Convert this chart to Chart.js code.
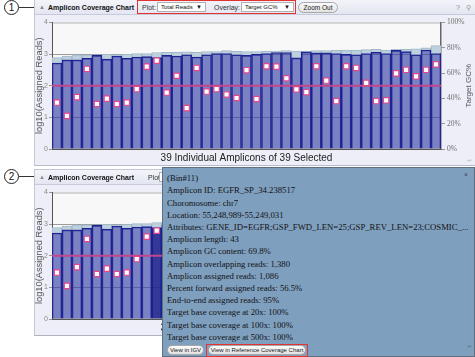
<!DOCTYPE html>
<html><head><meta charset="utf-8">
<script src="https://cdn.jsdelivr.net/npm/chart.js@4.4.0/dist/chart.umd.min.js"></script>
<style>
html,body{margin:0;padding:0;width:475px;height:357px;overflow:hidden;background:#fff;font-family:"Liberation Sans",Arial,sans-serif;}
.a{position:absolute;}
.panel{position:absolute;left:34px;width:441px;background:#eeeef9;border-left:1px solid #c4c6d8;box-sizing:border-box;}
.hdr{position:absolute;left:0;top:0;width:441px;height:15px;background:linear-gradient(#f3f4fa,#e3e6f2);border-bottom:1px solid #c6cadb;box-sizing:border-box;}
.ttl{position:absolute;top:2px;left:13px;font-weight:bold;font-size:7px;line-height:11px;color:#111;white-space:nowrap;}
.tri{position:absolute;left:4px;top:2px;font-size:6px;line-height:11px;color:#888;}
.lbl{position:absolute;top:2px;font-size:7px;line-height:11px;color:#333;white-space:nowrap;}
.sel{position:absolute;top:2px;height:10px;background:#fff;border:1px solid #b0b0b0;box-sizing:border-box;font-size:6px;line-height:8px;padding-left:3px;color:#111;white-space:nowrap;}
.sel span{position:absolute;right:3px;top:0;font-size:6px;}
.btn{position:absolute;border:1px solid #a8a8a8;border-radius:6px;background:linear-gradient(#fbfbfb,#e2e2e2);box-sizing:border-box;font-size:6.5px;text-align:center;color:#222;white-space:nowrap;}
.circ{position:absolute;width:15px;height:15px;border:1px solid #222;border-radius:50%;box-sizing:border-box;background:#fff;font-size:10px;line-height:13px;text-align:center;color:#111;}
.lead{position:absolute;height:1px;background:#333;}
canvas{position:absolute;}
.tip{position:absolute;left:162px;top:167px;width:313px;height:190px;background:#7f9fbf;border:1px solid #5d6f80;box-sizing:border-box;font-family:"Liberation Serif","Times New Roman",serif;color:#121212;}
.tip .ln{position:absolute;left:4px;font-size:8.7px;line-height:12.2px;white-space:nowrap;}
</style></head>
<body>
<div class="circ" style="left:4px;top:0px;">1</div>
<div class="lead" style="left:19px;top:7px;width:19px;"></div>
<div class="circ" style="left:4px;top:169px;">2</div>
<div class="lead" style="left:19px;top:176px;width:19px;"></div>

<div class="panel" style="top:0;height:166px;border-bottom:1px solid #b8bac8;">
  <div class="hdr">
    <div class="tri">&#9650;</div>
    <div class="ttl">Amplicon Coverage Chart</div>
    <div class="lbl" style="left:107px;">Plot:</div>
    <div class="sel" style="left:122px;width:49px;">Total Reads<span>&#9660;</span></div>
    <div class="lbl" style="left:179px;">Overlay:</div>
    <div class="sel" style="left:206px;width:53px;">Target GC%<span>&#9660;</span></div>
    <div class="a" style="left:102px;top:0;width:159px;height:14px;border:1.5px solid #e23232;box-sizing:border-box;"></div>
    <div class="btn" style="left:263px;top:2px;width:40px;height:11px;line-height:9px;">Zoom Out</div>
    <div class="lbl" style="left:421px;color:#888;">?</div>
    <div class="lbl" style="left:431px;color:#999;font-size:7px;">&#9906;</div>
  </div>
  <canvas id="c1" width="441" height="150" style="left:-1px;top:16px;"></canvas>
  <div class="a" style="left:432px;top:158px;font-size:6px;color:#999;">&#8279;</div>
</div>

<div class="panel" style="top:169px;height:167px;border-bottom:1px solid #b0b2c0;border-top:1px solid #c4c6d8;">
  <div class="hdr">
    <div class="tri">&#9650;</div>
    <div class="ttl">Amplicon Coverage Chart</div>
    <div class="lbl" style="left:113px;">Plot:</div>
    <div class="sel" style="left:124px;width:49px;">Total Reads<span>&#9660;</span></div>
  </div>
  <canvas id="c2" width="441" height="150" style="left:-1px;top:16px;"></canvas>
</div>

<div class="tip">
  <div class="ln" style="top:3.5px;">(Bin#11)</div>
  <div class="ln" style="top:16px;">Amplicon ID: EGFR_SP_34.238517</div>
  <div class="ln" style="top:28.5px;">Choromosome: chr7</div>
  <div class="ln" style="top:40.7px;">Location: 55,248,989-55,249,031</div>
  <div class="ln" style="top:52.9px;">Attributes: GENE_ID=EGFR;GSP_FWD_LEN=25;GSP_REV_LEN=23;COSMIC_...</div>
  <div class="ln" style="top:65.1px;">Amplicon length: 43</div>
  <div class="ln" style="top:77.3px;">Amplicon GC content: 69.8%</div>
  <div class="ln" style="top:89.5px;">Amplicon overlapping reads: 1,380</div>
  <div class="ln" style="top:101.7px;">Amplicon assigned reads: 1,086</div>
  <div class="ln" style="top:113.9px;">Percent forward assigned reads: 56.5%</div>
  <div class="ln" style="top:126.1px;">End-to-end assigned reads: 95%</div>
  <div class="ln" style="top:138.3px;">Target base coverage at 20x: 100%</div>
  <div class="ln" style="top:150.5px;">Target base coverage at 100x: 100%</div>
  <div class="ln" style="top:162.7px;">Target base coverage at 500x: 100%</div>
  <div class="btn" style="left:4px;top:177px;width:37px;height:10px;line-height:8px;font-family:'Liberation Sans',sans-serif;font-size:6px;">View in IGV</div>
  <div class="a" style="left:43px;top:175.5px;width:102px;height:13px;border:1.5px solid #e23232;box-sizing:border-box;"></div>
  <div class="btn" style="left:45px;top:177px;width:98px;height:10px;line-height:8px;font-family:'Liberation Sans',sans-serif;font-size:6px;">View in Reference Coverage Chart</div>
  <div class="a" style="left:301px;top:3px;font-size:7px;color:#445;font-family:'Liberation Sans',sans-serif;">&#215;</div>
  <div class="a" style="left:304px;top:176px;font-size:6px;color:#556;">&#8279;</div>
</div>

<script>
// ---- data ----
const amplicons = ['1','2','3','4','5','6','7','8','9','10','11','12','13','14','15','16','17','18','19','20',
  '21','22','23','24','25','26','27','28','29','30','31','32','33','34','35','36','37','38','39'];
const assignedLog10 = [2.72,2.82,2.82,2.87,2.96,2.84,2.94,2.87,2.91,2.92,2.89,2.96,2.94,2.98,2.91,2.98,3.02,3.02,2.98,2.96,
  2.99,3.02,3.05,3.05,2.88,3.07,3.04,3.04,3.02,2.99,2.98,3.02,3.06,3.02,3.12,3.08,2.98,3.13,3.02];
const overlappingLog10 = [2.89,2.94,2.98,2.98,2.97,2.99,2.98,2.99,3.02,3.02,3.05,3.06,3.06,3.07,3.06,3.08,3.08,3.11,3.09,3.08,
  3.08,3.10,3.10,3.11,3.10,3.09,3.11,3.11,3.13,3.13,3.13,3.14,3.15,3.13,3.15,3.15,3.17,3.20,3.27];
const targetGC = [36.7,26.2,41.0,63.3,35.6,39.8,35.6,36.7,47.4,65.1,69.8,44.6,57.9,32.3,64.1,45.4,47.4,43.1,40.3,62.3,
  39.5,65.4,65.1,55.9,47.2,44.9,65.4,54.1,37.9,65.4,64.1,52.3,37.9,38.5,59.8,62.6,57.4,62.6,66.9];
const gcReference = 50;
const leftTicks = [0,1,2,3,4];
const rightTicks = [0,20,40,60,80,100];
const selectedBin = '11';
const xTitle = '39 Individual Amplicons of 39 Selected';
const leftTitle = 'log10(Assigned Reads)';
const rightTitle = 'Target GC%';

// ---- plugins ----
const plotFrame = {
  id:'plotFrame',
  beforeDraw(chart){
    const {ctx, chartArea:a} = chart;
    ctx.save();
    ctx.fillStyle = '#f8f8f8';
    ctx.fillRect(a.left, a.top, a.right-a.left, a.bottom-a.top);
    ctx.strokeStyle = '#b4b4b4'; ctx.lineWidth = 1;
    ctx.strokeRect(a.left+0.5, a.top+0.5, a.right-a.left-1, a.bottom-a.top-1);
    ctx.restore();
  }
};
const gcLine = {
  id:'gcLine',
  beforeDatasetDraw(chart, args){
    if (args.index !== 0) return;
    const {ctx, chartArea:a} = chart;
    const y = chart.scales.y2.getPixelForValue(gcReference);
    ctx.save();
    ctx.strokeStyle = '#c2468c'; ctx.lineWidth = 2;
    ctx.beginPath(); ctx.moveTo(a.left, y); ctx.lineTo(a.right, y); ctx.stroke();
    ctx.restore();
  }
};
const rightAxisTitle = {
  id:'rightAxisTitle',
  afterDraw(chart){
    const {ctx, chartArea:a} = chart;
    const s = chart.scales.y2;
    ctx.save();
    ctx.translate(s.right - 6, (a.top + a.bottom)/2);
    ctx.rotate(-Math.PI/2);
    ctx.font = '8px "Liberation Sans", Arial, sans-serif';
    ctx.fillStyle = '#555';
    ctx.textAlign = 'center'; ctx.textBaseline = 'middle';
    ctx.fillText(rightTitle, 0, 0);
    ctx.restore();
  }
};

function buildChart(id, highlight){
  const darkFill = amplicons.map(c => (highlight && c === selectedBin) ? 'rgba(30,36,140,0.9)' : 'rgba(52,62,165,0.64)');
  return new Chart(document.getElementById(id), {
    type:'bar',
    data:{
      labels: amplicons,
      datasets:[
        { type:'line', label:'Target GC%', data: targetGC, yAxisID:'y2', showLine:false,
          pointStyle:'rect', pointRadius:3.8, pointHoverRadius:3.8,
          pointBackgroundColor:'#ffffff', pointBorderColor:'#e0488c', pointBorderWidth:1.2, order:0 },
        { label:'Assigned reads', data: assignedLog10, yAxisID:'y', grouped:false,
          backgroundColor: darkFill, borderColor:'#1c2190', borderWidth:1,
          categoryPercentage:1, barPercentage:1, order:1 },
        { label:'Overlapping reads', data: amplicons.map((c,i)=>[assignedLog10[i], overlappingLog10[i]]), yAxisID:'y', grouped:false,
          backgroundColor:'#bdd0de', borderColor:'#a2b7c8', borderWidth:1,
          categoryPercentage:1, barPercentage:1, order:2 }
      ]
    },
    options:{
      responsive:false, animation:false,
      layout:{padding:{top:3,left:0,right:0,bottom:0}},
      plugins:{legend:{display:false}, tooltip:{enabled:false}},
      scales:{
        x:{ type:'category', ticks:{display:false}, grid:{display:false, drawTicks:false},
            border:{color:'#555'},
            title:{display:true, text:xTitle, color:'#222', font:{family:'"Liberation Sans", Arial, sans-serif', size:10}, padding:{top:0,bottom:2}},
            afterFit(s){ s.height = 17; } },
        y:{ position:'left', min:0, max:4,
            afterBuildTicks(s){ s.ticks = leftTicks.map(v=>({value:v})); },
            ticks:{ font:{family:'"Liberation Sans", Arial, sans-serif', size:7}, color:'#888', padding:1 },
            grid:{ color:(c)=> (c.tick && (c.tick.value===0 || c.tick.value===4)) ? 'rgba(0,0,0,0)' : '#9c9c9c', tickLength:3, tickColor:'#999' },
            border:{color:'#555'},
            title:{display:true, text:leftTitle, color:'#555', font:{family:'"Liberation Sans", Arial, sans-serif', size:9.3}, padding:0},
            afterFit(s){ s.width = 18; } },
        y2:{ position:'right', min:0, max:100,
            afterBuildTicks(s){ s.ticks = rightTicks.map(v=>({value:v})); },
            ticks:{ callback:(v)=> v + '%', font:{family:'"Liberation Serif", "Times New Roman", serif', size:7.5}, color:'#6e6e6e', padding:2 },
            grid:{ drawOnChartArea:false, tickLength:4, color:'#999' },
            border:{color:'#666', width:1.5},
            afterFit(s){ s.width = 34; } }
      }
    },
    plugins:[plotFrame, gcLine, rightAxisTitle]
  });
}
buildChart('c1', false);
buildChart('c2', true);
</script>
</body></html>
